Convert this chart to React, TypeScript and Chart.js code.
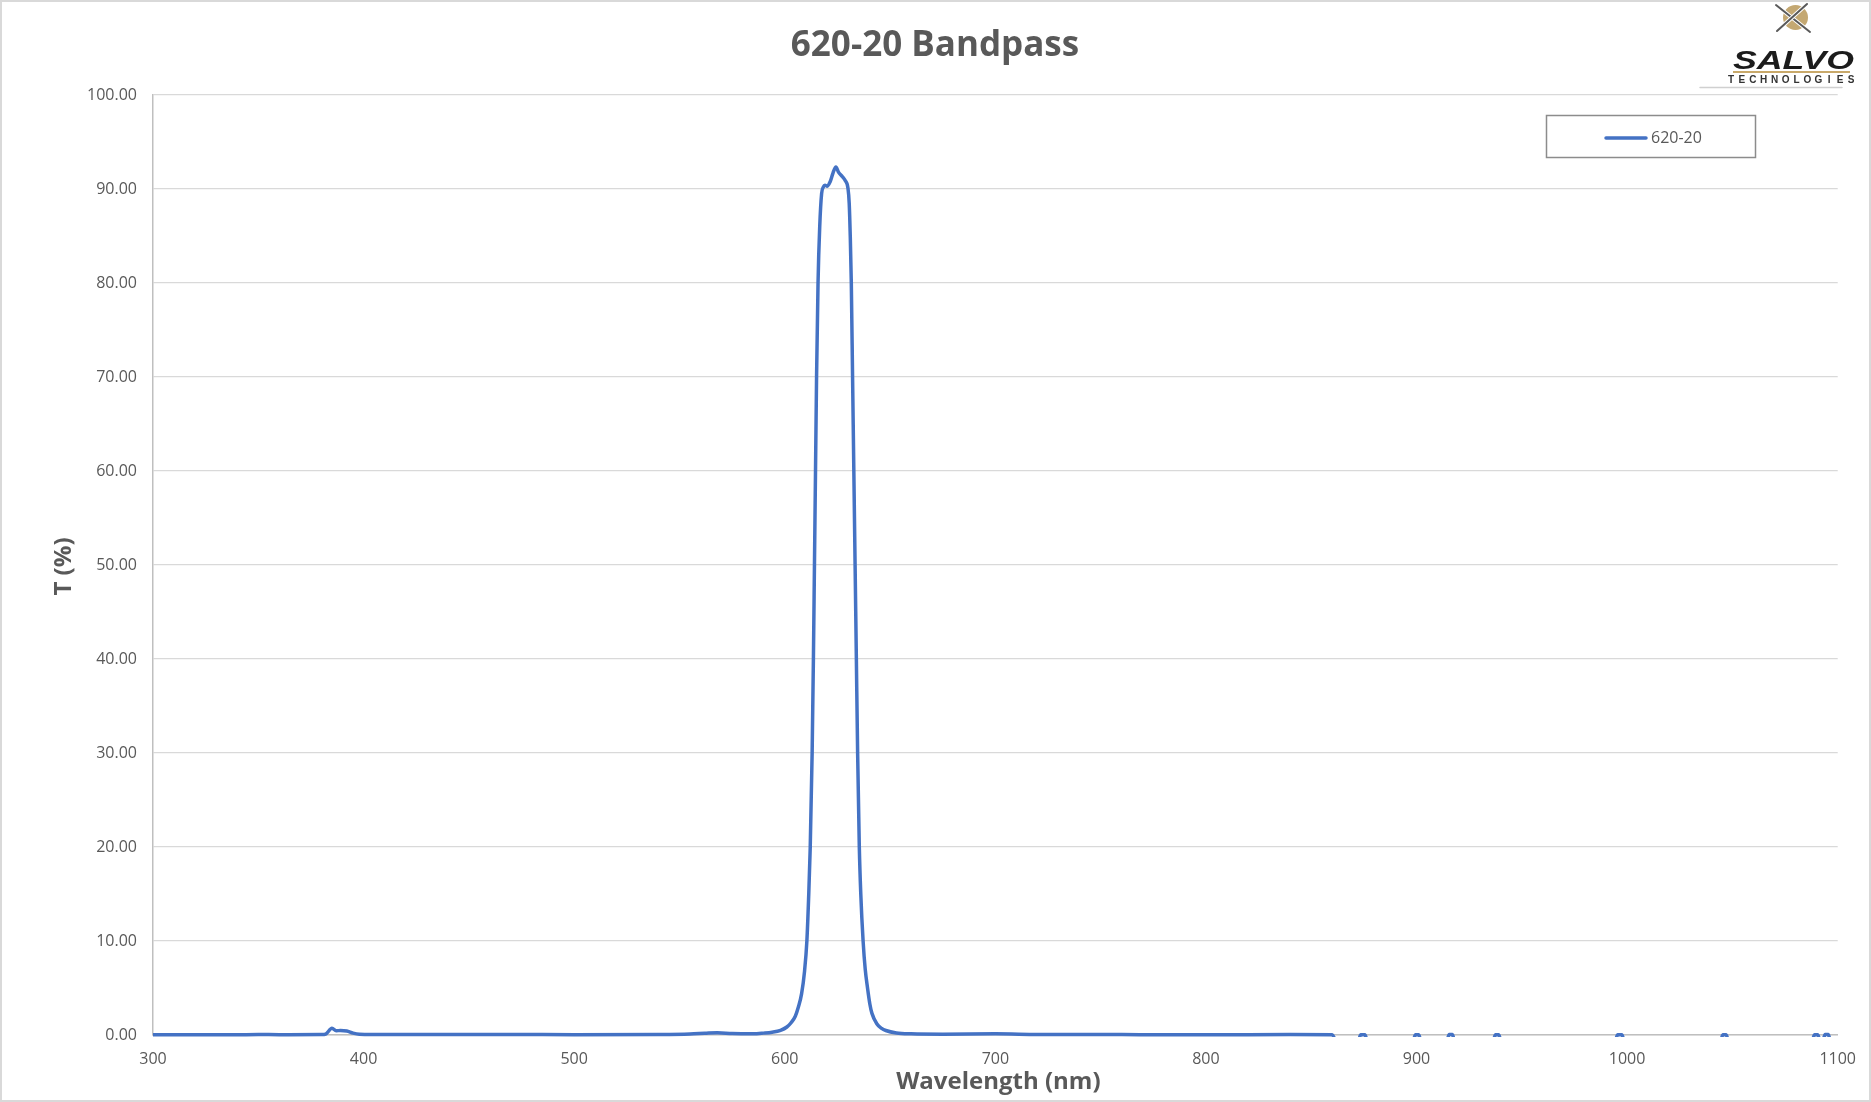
import React, { useEffect, useRef } from "react";
import { Chart, registerables } from "chart.js";

Chart.register(...registerables);

const chartTitle = "620-20 Bandpass";
const seriesName = "620-20";
const xAxisTitle = "Wavelength (nm)";
const yAxisTitle = "T (%)";

const xTicks = [300, 400, 500, 600, 700, 800, 900, 1000, 1100];
const yTicks = [0, 10, 20, 30, 40, 50, 60, 70, 80, 90, 100];

// wavelength (nm)
const wavelengths = [
  300, 320, 340, 350, 360, 380, 382, 385, 387, 389, 392, 395, 398, 405, 430, 470, 500, 540, 555, 562, 568, 575, 585,
  590, 594, 598, 601, 603, 605, 606.5, 608, 609.4, 610.5, 611.3, 612.1, 613.0, 613.6, 614.1, 614.6, 615.1, 615.8,
  616.6, 617.5, 618.3, 619.1, 620.0, 621.6, 622.9, 624.3, 625.5, 627.4, 628.7, 630.0, 630.6, 631.1, 631.6, 632.2,
  632.8, 633.4, 634.0, 634.6, 635.4, 636.1, 637.2, 638.2, 639.3, 640.4, 641.4, 643.7, 646, 648, 653, 660, 675, 700,
  720, 760, 800, 840, 860,
  861.5, 872.5, 873.5, 875.5, 876.5, 898.5, 899.5, 901, 902, 914.5, 915.5, 917, 918, 936.5, 937.5, 939, 940, 994.5,
  995.5, 997.5, 998.5, 1044.5, 1045.5, 1047, 1048, 1088, 1089, 1090.5, 1091.5, 1093, 1094, 1095.5, 1096.5, 1100,
];

// transmission (%)
const transmission = [
  0.02, 0.02, 0.03, 0.05, 0.03, 0.04, 0.1, 0.72, 0.45, 0.48, 0.42, 0.2, 0.08, 0.05, 0.04, 0.06, 0.03, 0.05, 0.1, 0.18,
  0.24, 0.15, 0.12, 0.2, 0.3, 0.5, 0.85, 1.3, 2.0, 3.0, 4.4, 6.8, 10, 14.4, 20, 30, 40, 50, 60, 70, 80, 86, 89.5, 90.2,
  90.4, 90.3, 90.8, 91.7, 92.35, 91.8, 91.3, 90.9, 90.1, 88.5, 85, 80, 70, 60, 50, 40, 30, 20, 15, 10, 7, 5, 3.3,
  2.3, 1.2, 0.7, 0.48, 0.22, 0.12, 0.08, 0.12, 0.06, 0.04, 0.03, 0.04, 0.03,
  -0.5, -0.5, 0.03, 0.03, -0.5, -0.5, 0.03, 0.03, -0.5, -0.5, 0.04, 0.04, -0.5, -0.5, 0.03, 0.03, -0.5, -0.5, 0.03,
  0.03, -0.5, -0.5, 0.03, 0.03, -0.5, -0.5, 0.03, 0.03, -0.5, -0.5, 0.04, 0.04, -0.5, -0.5,
];

const LINE_COLOR = "#4472C4";
const TEXT_COLOR = "#595959";
const FONT = "'Open Sans', 'Liberation Sans', sans-serif";

const decorPlugin = {
  id: "decor",
  beforeDraw(chart: any) {
    const { ctx, width, height } = chart;
    ctx.save();
    ctx.fillStyle = "#ffffff";
    ctx.fillRect(0, 0, width, height);
    ctx.restore();
  },
  afterDraw(chart: any) {
    const { ctx, width, height, chartArea } = chart;
    ctx.save();
    // outer border
    ctx.strokeStyle = "#d9d9d9";
    ctx.lineWidth = 2;
    ctx.strokeRect(1, 1, width - 2, height - 2);

    // title
    ctx.fillStyle = TEXT_COLOR;
    ctx.font = `bold 35px ${FONT}`;
    ctx.textAlign = "center";
    ctx.textBaseline = "alphabetic";
    ctx.fillText(chartTitle, 935, 56);

    // x axis title
    ctx.font = `bold 24px ${FONT}`;
    ctx.fillText(xAxisTitle, (chartArea.left + chartArea.right) / 2 + 3, 1089);

    // y axis title
    ctx.save();
    ctx.translate(70.5, (chartArea.top + chartArea.bottom) / 2 + 1.5);
    ctx.rotate(-Math.PI / 2);
    ctx.fillText(yAxisTitle, 0, 0);
    ctx.restore();

    // legend
    ctx.strokeStyle = "#8c8c8c";
    ctx.lineWidth = 1.5;
    ctx.strokeRect(1546.5, 115.5, 209, 42);
    ctx.strokeStyle = LINE_COLOR;
    ctx.lineWidth = 3.5;
    ctx.lineCap = "round";
    ctx.beginPath();
    ctx.moveTo(1606, 138);
    ctx.lineTo(1646, 138);
    ctx.stroke();
    ctx.font = `16px ${FONT}`;
    ctx.textAlign = "left";
    ctx.textBaseline = "middle";
    ctx.fillStyle = TEXT_COLOR;
    ctx.fillText(seriesName, 1651, 138);

    // logo
    ctx.fillStyle = "#c4a872";
    ctx.beginPath();
    ctx.arc(1795.5, 17.5, 12.5, 0, Math.PI * 2);
    ctx.fill();
    ctx.lineCap = "round";
    const xLine = (x1: number, y1: number, x2: number, y2: number) => {
      ctx.strokeStyle = "#ffffff";
      ctx.lineWidth = 4;
      ctx.beginPath();
      ctx.moveTo(x1, y1);
      ctx.lineTo(x2, y2);
      ctx.stroke();
      ctx.strokeStyle = "#5a5a5a";
      ctx.lineWidth = 2;
      ctx.beginPath();
      ctx.moveTo(x1, y1);
      ctx.lineTo(x2, y2);
      ctx.stroke();
    };
    xLine(1776, 5, 1810, 32);
    xLine(1807, 4, 1777, 31);

    ctx.save();
    ctx.fillStyle = "#1c1c1c";
    ctx.font = `italic bold 26px 'Liberation Sans', sans-serif`;
    ctx.textAlign = "left";
    ctx.textBaseline = "alphabetic";
    const sw = ctx.measureText("SALVO").width;
    ctx.translate(1733, 68.5);
    ctx.scale(121 / sw, 1);
    ctx.fillText("SALVO", 0, 0);
    ctx.restore();

    ctx.fillStyle = "#c9a96a";
    ctx.fillRect(1733, 71, 117, 2);

    ctx.fillStyle = "#333333";
    ctx.font = `bold 10px 'Liberation Sans', sans-serif`;
    ctx.textAlign = "center";
    ctx.textBaseline = "middle";
    const word = "TECHNOLOGIES";
    const x0 = 1731;
    const x1 = 1851;
    for (let i = 0; i < word.length; i++) {
      ctx.fillText(word[i], x0 + ((x1 - x0) * i) / (word.length - 1), 80);
    }
    ctx.strokeStyle = "#d0d0d0";
    ctx.lineWidth = 1.5;
    ctx.beginPath();
    ctx.moveTo(1700, 87.5);
    ctx.lineTo(1842, 87.5);
    ctx.stroke();
    ctx.restore();
  },
};

export default function App() {
  const canvasRef = useRef<HTMLCanvasElement | null>(null);

  useEffect(() => {
    const canvas = canvasRef.current;
    if (!canvas) return;
    const points = wavelengths.map((x, i) => ({ x, y: transmission[i] }));
    const chart = new Chart(canvas, {
      type: "line",
      data: {
        datasets: [
          {
            label: seriesName,
            data: points,
            borderColor: LINE_COLOR,
            backgroundColor: LINE_COLOR,
            borderWidth: 3.5,
            pointRadius: 0,
            pointHoverRadius: 0,
            cubicInterpolationMode: "monotone",
            fill: false,
            clip: 2,
          } as any,
        ],
      },
      options: {
        animation: false,
        responsive: false,
        maintainAspectRatio: false,
        events: [],
        layout: { padding: { left: 0, top: 95, right: 33, bottom: 0 } },
        plugins: {
          legend: { display: false },
          title: { display: false },
          tooltip: { enabled: false },
        },
        scales: {
          x: {
            type: "linear",
            min: 300,
            max: 1100,
            afterFit: (s: any) => {
              s.height = 67;
            },
            afterBuildTicks: (s: any) => {
              s.ticks = xTicks.map((v) => ({ value: v }));
            },
            grid: { display: false, drawTicks: false },
            border: { display: true, color: "#bfbfbf", width: 1.5 },
            ticks: {
              padding: 15,
              color: TEXT_COLOR,
              font: { family: FONT, size: 16 },
              maxRotation: 0,
              callback: (v: any) => String(v),
            },
          },
          y: {
            type: "linear",
            min: 0,
            max: 100,
            afterFit: (s: any) => {
              s.width = 153;
            },
            afterBuildTicks: (s: any) => {
              s.ticks = yTicks.map((v) => ({ value: v }));
            },
            grid: { color: "#d9d9d9", lineWidth: 1.3, drawTicks: false },
            border: { display: true, color: "#bfbfbf", width: 1.5 },
            ticks: {
              padding: 16,
              color: TEXT_COLOR,
              font: { family: FONT, size: 16 },
              callback: (v: any) => Number(v).toFixed(2),
            },
          },
        },
      },
      plugins: [decorPlugin],
    });
    return () => chart.destroy();
  }, []);

  return (
    <div style={{ position: "fixed", left: 0, top: 0, width: 1871, height: 1102, background: "#fff" }}>
      <canvas ref={canvasRef} width={1871} height={1102} style={{ display: "block", width: 1871, height: 1102 }} />
    </div>
  );
}
